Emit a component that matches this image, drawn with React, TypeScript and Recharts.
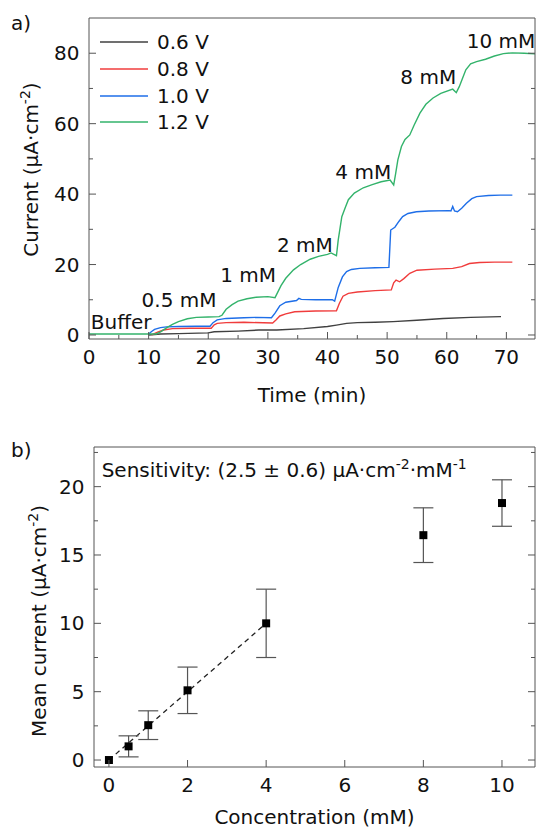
import React from 'react';
import {
  Line,
  Label,
  XAxis,
  YAxis,
  Legend,
  Scatter,
  ErrorBar,
  LineChart,
  ReferenceDot,
  ComposedChart,
} from 'recharts';

const FONT = '"DejaVu Sans", Verdana, sans-serif';
const AXIS = '#555';
const INK = '#111';
const FS = 20;
const SUP = 14;

// ---------------------------------------------------------------------- panel a

const seriesNames = ['0.6 V', '0.8 V', '1.0 V', '1.2 V'];
const seriesColors = ['#404040', '#f03c3c', '#1e6ee8', '#33b36b'];

const time06 = [10, 12, 15, 20, 21, 25, 28.5, 31.5, 36, 40, 41.5, 43.2, 45, 48, 51, 55, 59.4, 64, 69.1];
const current06 = [0, 0.3, 0.4, 0.6, 0.9, 1.1, 1.4, 1.4, 1.8, 2.4, 2.8, 3.3, 3.5, 3.6, 3.8, 4.2, 4.7, 5.0, 5.2];

const time08 = [
  10.5, 11.5, 12.5, 14, 17, 20.5, 21, 21.5, 23, 26, 30.8, 31.4, 32, 33, 34.5, 38, 41.5, 42, 42.6, 43.5, 45, 48,
  50.7, 51.1, 51.5, 52.1, 52.8, 53.8, 55, 58, 61, 62.5, 63.8, 65.5, 68, 71,
];
const current08 = [
  0, 0.8, 1.4, 1.8, 1.9, 1.9, 2.9, 3.3, 3.5, 3.6, 3.4, 4.3, 5.4, 6.0, 6.6, 6.8, 6.9, 9, 11.0, 11.8, 12.2, 12.6,
  12.8, 14.8, 15.6, 15.1, 16.0, 17.5, 18.4, 18.7, 18.9, 19.4, 20.3, 20.6, 20.7, 20.7,
];

const time10 = [
  10, 10.5, 11, 12, 13, 15, 18, 20.3, 20.8, 21.5, 23, 26, 28, 30.6, 31.2, 32, 33, 34.8, 35.2, 35.6, 38, 40.8, 41.2,
  41.8, 42.5, 43.2, 44, 45.4, 48, 50.3, 50.6, 51.3, 52, 52.6, 53.5, 54.9, 57, 60.4, 60.7, 61, 61.3, 61.8, 62.5,
  63.3, 64.2, 65, 67, 69, 71,
];
const current10 = [
  0.3, 1.0, 1.6, 2.1, 2.3, 2.4, 2.5, 2.5, 3.5, 4.3, 4.7, 4.9, 5.0, 4.9, 6.2, 8.3, 9.3, 9.8, 10.4, 10.1, 10.0, 10.0,
  9.6, 13.5, 16.5, 18.0, 18.6, 18.9, 19.1, 19.2, 29.8, 30.6, 32.3, 33.6, 34.5, 35.0, 35.2, 35.3, 35.2, 36.5, 35.2,
  35.0, 36.0, 37.4, 38.7, 39.3, 39.6, 39.7, 39.7,
];

const time12 = [
  0, 5, 10, 11.3, 12, 13, 14, 15, 16.5, 18, 20, 21.8, 22.3, 23, 24, 25, 26.5, 28, 30, 31.2, 31.7, 32.2, 33, 34.3,
  35.5, 37.1, 38.5, 40, 40.6, 41.5, 41.8, 42.4, 43, 43.5, 44.5, 46, 47.5, 49, 50.5, 51.1, 51.4, 51.8, 52.4, 53,
  53.8, 54.5, 55.5, 56.5, 57.7, 59, 61, 61.6, 62.1, 62.6, 63.2, 64, 65, 66.5, 68, 69.5, 71, 73, 74.8,
];
const current12 = [
  0.3, 0.3, 0.3, 0.3, 0.9, 2.0, 3.0, 3.8, 4.6, 5.0, 5.1, 5.2, 5.6, 7.3, 8.6, 9.6, 10.3, 10.7, 10.9, 10.6, 12.3,
  14.0, 16.1, 18.5, 20.0, 21.5, 22.3, 22.9, 23.3, 22.5, 27.0, 33.6, 36.3, 38.4, 40.3, 41.8, 42.7, 43.5, 44.0, 42.6,
  45.5, 49.7, 53.5, 55.5, 56.8, 59.5, 63.0, 65.5, 67.3, 68.6, 69.8, 68.8, 70.5, 72.7, 75.3, 77.0, 77.6, 78.3, 79.2,
  79.9, 80.1, 80.0, 79.8,
];

const seriesTimes = [time06, time08, time10, time12];
const seriesCurrents = [current06, current08, current10, current12];

const stepLabels = ['Buffer', '0.5 mM', '1 mM', '2 mM', '4 mM', '8 mM', '10 mM'];
const stepLabelTime = [5.4, 15.1, 26.7, 36.2, 46, 56.9, 69.1];
const stepLabelCurrent = [3.7, 9.9, 17.1, 25.6, 46.4, 73.4, 83.5];

const timeTicks = [0, 5, 10, 15, 20, 25, 30, 35, 40, 45, 50, 55, 60, 65, 70];
const timeMajor = [0, 10, 20, 30, 40, 50, 60, 70];
const currentTicks = [0, 10, 20, 30, 40, 50, 60, 70, 80];
const currentMajor = [0, 20, 40, 60, 80];

// ---------------------------------------------------------------------- panel b

const concentrations = [0, 0.5, 1, 2, 4, 8, 10];
const meanCurrent = [0, 1.0, 2.55, 5.1, 10.0, 16.45, 18.8];
const currentError = [0, 0.77, 1.05, 1.7, 2.5, 2.0, 1.7];
const fitConcentration = [0, 4];
const fitCurrent = [0, 10];

const concTicks = [0, 2, 4, 6, 8, 10];
const meanTicks = [0, 2.5, 5, 7.5, 10, 12.5, 15, 17.5, 20, 22.5];
const meanMajor = [0, 5, 10, 15, 20];

// ----------------------------------------------------------------------

const traces = seriesNames.map((name, i) => ({
  name,
  color: seriesColors[i],
  points: seriesTimes[i].map((t, j) => ({ t, v: seriesCurrents[i][j] })),
}));

const meanPoints = concentrations.map((x, i) => ({ x, y: meanCurrent[i], e: currentError[i] }));
const fitPoints = fitConcentration.map((x, i) => ({ x, y: fitCurrent[i] }));

type Side = 'bottom' | 'top' | 'left' | 'right';

// inward ticks, long for major values, labels only on the bottom/left axes
const makeTick = (side: Side, major: number[], labelled: boolean) => (props: any) => {
  const { x, y, payload } = props;
  const v = payload.value;
  const isMajor = major.includes(v);
  const len = isMajor ? 7 : 4;
  let line;
  let text = null;
  if (side === 'bottom') {
    line = <line x1={x} y1={y} x2={x} y2={y - len} />;
    if (labelled && isMajor)
      text = (
        <text x={x} y={y + 25} textAnchor='middle' fontSize={FS} fill={INK} stroke='none'>
          {v}
        </text>
      );
  } else if (side === 'top') {
    line = <line x1={x} y1={y} x2={x} y2={y + len} />;
  } else if (side === 'left') {
    line = <line x1={x} y1={y} x2={x + len} y2={y} />;
    if (labelled && isMajor)
      text = (
        <text x={x - 9.5} y={y + 7} textAnchor='end' fontSize={FS} fill={INK} stroke='none'>
          {v}
        </text>
      );
  } else {
    line = <line x1={x} y1={y} x2={x - len} y2={y} />;
  }
  return (
    <g stroke={AXIS} strokeWidth={1}>
      {line}
      {text}
    </g>
  );
};

const axisCommon = {
  type: 'number' as const,
  allowDataOverflow: true,
  interval: 0 as const,
  tickSize: 0,
  tickMargin: 0,
  tickLine: false,
  axisLine: { stroke: AXIS, strokeWidth: 1 },
};

const timeLabel = (props: any) => {
  const { x, y, width } = props.viewBox;
  return (
    <text x={x + width / 2} y={y + 62.5} textAnchor='middle' fontSize={FS} fill={INK}>
      Time (min)
    </text>
  );
};

const currentLabel = (props: any) => {
  const { y, height } = props.viewBox;
  const cx = 38;
  const cy = y + height / 2 - 9;
  return (
    <text transform={`rotate(-90 ${cx} ${cy})`} x={cx} y={cy} textAnchor='middle' fontSize={FS} fill={INK}>
      Current (µA·cm<tspan dy={-8} fontSize={SUP}>-2</tspan>
      <tspan dy={8}>)</tspan>
    </text>
  );
};

const concLabel = (props: any) => {
  const { x, y, width } = props.viewBox;
  return (
    <text x={x + width / 2} y={y + 57} textAnchor='middle' fontSize={FS} fill={INK}>
      Concentration (mM)
    </text>
  );
};

const meanLabel = (props: any) => {
  const { y, height } = props.viewBox;
  const cx = 45.5;
  const cy = y + height / 2 + 14;
  return (
    <text transform={`rotate(-90 ${cx} ${cy})`} x={cx} y={cy} textAnchor='middle' fontSize={FS} fill={INK}>
      Mean current (µA·cm<tspan dy={-8} fontSize={SUP}>-2</tspan>
      <tspan dy={8}>)</tspan>
    </text>
  );
};

const sensitivityLabel = (props: any) => {
  const { x, y } = props.viewBox;
  return (
    <text x={x} y={y} fontSize={FS} fill={INK}>
      Sensitivity: (2.5 ± 0.6) µA·cm<tspan dy={-8} fontSize={SUP}>-2</tspan>
      <tspan dy={8}>·mM</tspan>
      <tspan dy={-8} fontSize={SUP}>-1</tspan>
    </text>
  );
};

const legendContent = (props: any) => (
  <div style={{ fontFamily: FONT, fontSize: FS, color: INK }}>
    {(props.payload || []).map((p: any) => (
      <div key={p.value} style={{ display: 'flex', alignItems: 'center', height: 26.7 }}>
        <svg width={48} height={4}>
          <line x1={0} y1={2} x2={48} y2={2} stroke={p.color} strokeWidth={1.6} />
        </svg>
        <span style={{ marginLeft: 9, lineHeight: '20px' }}>{p.value}</span>
      </div>
    ))}
  </div>
);

const panelLetter = (text: string, top: number) => (
  <div style={{ position: 'absolute', left: 11, top, fontSize: FS, lineHeight: '22px', color: INK }}>{text}</div>
);

export default function App() {
  return (
    <div style={{ position: 'absolute', left: 0, top: 0, width: 536, height: 828, fontFamily: FONT, background: '#fff' }}>
      {panelLetter('a)', 12)}
      {panelLetter('b)', 439)}

      <div style={{ position: 'absolute', left: 0, top: 0 }}>
        <LineChart width={536} height={410} margin={{ top: 17, right: 0, bottom: 0, left: 0 }}>
          <XAxis
            {...axisCommon}
            xAxisId='b'
            dataKey='t'
            domain={[0, 74.8]}
            ticks={timeTicks}
            height={71}
            tick={makeTick('bottom', timeMajor, true)}
          >
            <Label content={timeLabel} />
          </XAxis>
          <XAxis
            {...axisCommon}
            xAxisId='t'
            orientation='top'
            domain={[0, 74.8]}
            ticks={timeTicks}
            height={1}
            tick={makeTick('top', timeMajor, false)}
          />
          <YAxis
            {...axisCommon}
            yAxisId='l'
            domain={[-1.14, 90]}
            ticks={currentTicks}
            width={89}
            tick={makeTick('left', currentMajor, true)}
          >
            <Label content={currentLabel} />
          </YAxis>
          <YAxis
            {...axisCommon}
            yAxisId='r'
            orientation='right'
            domain={[-1.14, 90]}
            ticks={currentTicks}
            width={1}
            tick={makeTick('right', currentMajor, false)}
          />
          {traces.map(s => (
            <Line
              key={s.name}
              xAxisId='b'
              yAxisId='l'
              data={s.points}
              dataKey='v'
              name={s.name}
              stroke={s.color}
              strokeWidth={1.4}
              dot={false}
              activeDot={false}
              type='linear'
              isAnimationActive={false}
            />
          ))}
          {stepLabels.map((text, i) => (
            <ReferenceDot
              key={text}
              xAxisId='b'
              yAxisId='l'
              x={stepLabelTime[i]}
              y={stepLabelCurrent[i]}
              r={0}
              label={{ value: text, position: 'center', fontSize: FS, fill: INK }}
            />
          ))}
          <Legend
            layout='vertical'
            align='center'
            verticalAlign='middle'
            content={legendContent}
            wrapperStyle={{ left: 100, top: 29, width: 'auto' }}
          />
        </LineChart>
      </div>

      <div style={{ position: 'absolute', left: 0, top: 400 }}>
        <ComposedChart width={536} height={428} margin={{ top: 46, right: 0, bottom: 0, left: 0 }}>
          <XAxis
            {...axisCommon}
            xAxisId='b'
            dataKey='x'
            domain={[-0.38, 10.84]}
            ticks={concTicks}
            height={61}
            tick={makeTick('bottom', concTicks, true)}
          >
            <Label content={concLabel} />
          </XAxis>
          <XAxis
            {...axisCommon}
            xAxisId='t'
            orientation='top'
            domain={[-0.38, 10.84]}
            ticks={concTicks}
            height={1}
            tick={makeTick('top', concTicks, false)}
          />
          <YAxis
            {...axisCommon}
            yAxisId='l'
            domain={[-0.51, 22.9]}
            ticks={meanTicks}
            width={94}
            tick={makeTick('left', meanMajor, true)}
          >
            <Label content={meanLabel} />
          </YAxis>
          <YAxis
            {...axisCommon}
            yAxisId='r'
            orientation='right'
            domain={[-0.51, 22.9]}
            ticks={meanTicks}
            width={1}
            tick={makeTick('right', meanMajor, false)}
          />
          <Line
            xAxisId='b'
            yAxisId='l'
            data={fitPoints}
            dataKey='y'
            stroke='#222'
            strokeWidth={1.3}
            strokeDasharray='5 4'
            dot={false}
            activeDot={false}
            type='linear'
            isAnimationActive={false}
          />
          <Scatter
            xAxisId='b'
            yAxisId='l'
            data={meanPoints}
            dataKey='y'
            fill='#000'
            shape='square'
            isAnimationActive={false}
          >
            <ErrorBar dataKey='e' direction='y' width={10} stroke={AXIS} strokeWidth={1.2} isAnimationActive={false} />
          </Scatter>
          <ReferenceDot xAxisId='b' yAxisId='l' x={-0.186} y={20.71} r={0} label={sensitivityLabel} />
        </ComposedChart>
      </div>
    </div>
  );
}
